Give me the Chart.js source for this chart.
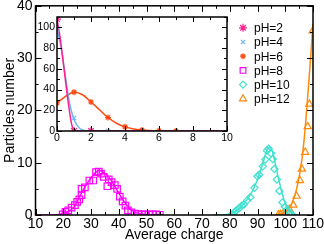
<!DOCTYPE html>
<html>
<head>
<meta charset="utf-8">
<script src="https://cdn.jsdelivr.net/npm/chart.js@4"></script>
<style>
  html, body { margin: 0; padding: 0; background: #fff; }
  #wrap { position: relative; width: 324px; height: 244px; }
  #wrap canvas { position: absolute; left: 0; top: 0; }
</style>
</head>
<body>
<div id="wrap">
  <canvas id="mainChart" width="324" height="244"></canvas>
  <canvas id="insetChart" width="324" height="244"></canvas>
</div>
<script>
// main panel: charge distributions for pH 8, 10, 12
const xTicks = [10, 20, 30, 40, 50, 60, 70, 80, 90, 100, 110];
const yTicks = [0, 10, 20, 30, 40];

const pH8X = [19.8, 20.8, 21.8, 23.0, 24.2, 25.0, 25.8, 26.6, 26.6, 27.8, 29.4, 30.8, 31.8, 32.8, 33.6, 34.6, 35.9, 36.4, 37.4, 38.6, 39.4, 40.4, 41.4, 42.4, 43.3, 44.5, 45.8, 47.0, 48.3, 49.6, 50.9, 52.2, 53.5, 54.8];
const pH8Y = [0.1, 0.6, 0.9, 1.4, 1.9, 2.5, 3.0, 3.8, 5.0, 5.3, 6.6, 6.6, 8.2, 8.3, 7.9, 7.3, 5.5, 6.8, 6.3, 5.7, 5.0, 3.5, 2.6, 1.8, 0.9, 0.5, 0.25, 0.15, 0.1, 0.1, 0.1, 0.1, 0.1, 0.05];
const pH8FitX = [10, 14, 18, 20, 22, 24, 26, 28, 30, 32, 33, 34, 36, 38, 40, 42, 44, 46, 48, 50, 52, 56];
const pH8FitY = [0, 0, 0.05, 0.3, 0.7, 1.6, 3.6, 5.5, 7.1, 8.3, 8.5, 8.3, 7.5, 6.0, 4.2, 2.5, 1.2, 0.5, 0.2, 0.05, 0, 0];

const pH10X = [80.7, 81.6, 82.4, 83.4, 84.3, 85.1, 86.3, 87.4, 88.9, 90.0, 90.6, 91.9, 92.8, 93.4, 94.0, 94.9, 95.5, 96.1, 97.0, 97.9, 99.0, 99.9, 100.6, 101.6, 102.4];
const pH10Y = [0.1, 0.5, 0.9, 1.3, 1.8, 2.0, 2.8, 3.4, 5.2, 7.4, 7.7, 9.3, 10.6, 12.3, 12.7, 11.8, 10.7, 8.8, 6.8, 4.6, 2.4, 1.6, 1.0, 0.4, 0.1];
const pH10FitX = [74, 78, 80, 82, 84, 86, 88, 90, 92, 93, 94, 95, 96, 97, 98, 99, 100, 101, 102, 103, 105];
const pH10FitY = [0, 0.05, 0.2, 0.7, 1.6, 2.8, 4.4, 6.8, 10.0, 11.8, 12.9, 12.6, 10.8, 8.4, 6.0, 3.9, 2.2, 1.1, 0.5, 0.2, 0];

const pH12X = [97.5, 98.3, 99.2, 100.0, 101.5, 102.9, 104.1, 105.3, 106.0, 107.2, 108.1, 108.7, 109.9];
const pH12Y = [0.05, 0.1, 0.2, 0.3, 1.1, 1.9, 3.6, 6.6, 8.8, 12.0, 16.9, 21.2, 35.2];
const pH12FitX = [96, 98, 100, 101, 102, 103, 104, 105, 106, 107, 108, 109, 110];
const pH12FitY = [0, 0.05, 0.4, 0.9, 1.8, 3.0, 4.8, 7.3, 10.6, 15.5, 22.0, 29.0, 36.5];

// inset: pH 2, 4, 6
const insetXTicks = [0, 2, 4, 6, 8, 10];
const insetYTicks = [0, 20, 40, 60, 80, 100];

const pH2X = [0, 1, 2];
const pH2Y = [108, 0, 0];
const pH2FitX = [0, 0.2, 0.4, 0.6, 0.8, 0.9, 1.0, 1.2, 10];
const pH2FitY = [108, 88, 62, 35, 12, 4, 0.5, 0, 0];

const pH4X = [0, 1, 2, 3];
const pH4Y = [98, 12.5, 0, 0];
const pH4FitX = [0, 0.25, 0.5, 0.75, 1.0, 1.25, 1.5, 2.0, 10];
const pH4FitY = [98, 80, 52, 26, 11, 4, 1, 0, 0];

const pH6X = [0, 1, 2, 3, 4, 5, 6, 7];
const pH6Y = [27, 37.5, 28, 13, 4, 1, 0.3, 0];
const pH6FitX = [0, 0.5, 1, 1.5, 2, 2.5, 3, 3.5, 4, 4.5, 5, 6, 7, 10];
const pH6FitY = [27, 33.5, 37.5, 35, 28, 20.5, 13, 7.5, 4, 2, 1, 0.2, 0, 0];

const legendLabels = ['pH=2', 'pH=4', 'pH=6', 'pH=8', 'pH=10', 'pH=12'];

const C2 = '#ff1f8f', C4 = '#6db6f2', C6 = '#ff4a12';
const C8 = '#ff00ff', C10 = '#3fe0d0', C12 = '#ff8a0a';

Chart.defaults.font.family = '"Liberation Sans", Arial, sans-serif';
Chart.defaults.color = '#000';

function pts(xs, ys) {
  return xs.map((x, i) => ({ x: x, y: ys[i] }));
}

function curve(xs, ys, color) {
  return {
    data: pts(xs, ys),
    showLine: true,
    borderColor: color,
    borderWidth: 1.5,
    pointRadius: 0,
    tension: 0.4,
    cubicInterpolationMode: 'monotone'
  };
}

function marks(xs, ys, color, style, r) {
  return {
    data: pts(xs, ys),
    showLine: false,
    borderColor: color,
    backgroundColor: 'rgba(0,0,0,0)',
    borderWidth: 1.2,
    pointStyle: style,
    pointRadius: r
  };
}

// 框线 + 向内的刻度
const frameTicks = {
  id: 'frameTicks',
  afterDraw(chart, args, o) {
    const { ctx, chartArea: a, scales: { x, y } } = chart;
    ctx.save();
    ctx.strokeStyle = '#000';
    ctx.lineWidth = 1;
    ctx.beginPath();
    for (let v = x.min; v <= x.max + 1e-6; v += o.xMinor) {
      const px = Math.round(x.getPixelForValue(v)) + 0.5;
      const big = Math.abs(v / o.xMajor - Math.round(v / o.xMajor)) < 1e-6;
      const len = big ? o.major : o.minor;
      ctx.moveTo(px, a.bottom); ctx.lineTo(px, a.bottom - len);
      ctx.moveTo(px, a.top); ctx.lineTo(px, a.top + len);
    }
    for (let v = y.min; v <= y.max + 1e-6; v += o.yMinor) {
      const py = Math.round(y.getPixelForValue(v)) + 0.5;
      const big = Math.abs(v / o.yMajor - Math.round(v / o.yMajor)) < 1e-6;
      const len = big ? o.major : o.minor;
      ctx.moveTo(a.left, py); ctx.lineTo(a.left + len, py);
      ctx.moveTo(a.right, py); ctx.lineTo(a.right - len, py);
    }
    ctx.stroke();
    ctx.lineWidth = 1.5;
    ctx.strokeRect(a.left, a.top, a.right - a.left, a.bottom - a.top);
    ctx.restore();
  }
};

const whiteArea = {
  id: 'whiteArea',
  beforeDraw(chart) {
    const { ctx, chartArea: a } = chart;
    ctx.save();
    ctx.fillStyle = '#fff';
    ctx.fillRect(a.left, a.top, a.right - a.left, a.bottom - a.top);
    ctx.restore();
  }
};

// 图例（画在主图内部右上角）
const legendStyles = [
  { color: C2, style: 'star', r: 4 },
  { color: C4, style: 'crossRot', r: 3 },
  { color: C6, style: 'star', r: 3 },
  { color: C8, style: 'rect', r: 4 },
  { color: C10, style: 'rectRot', r: 3.5 },
  { color: C12, style: 'triangle', r: 4 }
];
const innerLegend = {
  id: 'innerLegend',
  afterDraw(chart) {
    const { ctx, chartArea: a } = chart;
    ctx.save();
    ctx.font = '12px "Liberation Sans", Arial, sans-serif';
    ctx.fillStyle = '#000';
    ctx.textBaseline = 'middle';
    legendLabels.forEach((lab, i) => {
      const st = legendStyles[i];
      const yy = a.top + 22 + i * 14.2;
      const xx = a.right - 70;
      ctx.strokeStyle = st.color;
      ctx.fillStyle = 'rgba(0,0,0,0)';
      ctx.lineWidth = 1.2;
      Chart.helpers.drawPoint(ctx, { pointStyle: st.style, radius: st.r, borderWidth: 1.2 }, xx, yy);
      ctx.fillStyle = '#000';
      ctx.fillText(lab, xx + 11, yy + 1);
    });
    ctx.restore();
  }
};

function fixedTicks(list) {
  return function (scale) {
    scale.ticks = list.map(v => ({ value: v }));
  };
}

function fixSize(w, h) {
  return function (scale) {
    if (w !== null) scale.width = w;
    if (h !== null) scale.height = h;
    scale.paddingLeft = 0; scale.paddingRight = 0;
    scale.paddingTop = 0; scale.paddingBottom = 0;
  };
}

new Chart(document.getElementById('mainChart'), {
  type: 'scatter',
  data: {
    datasets: [
      marks(pH8X, pH8Y, C8, 'rect', 4.6),
      marks(pH10X, pH10Y, C10, 'rectRot', 3.6),
      marks(pH12X, pH12Y, C12, 'triangle', 4.2),
      curve(pH8FitX, pH8FitY, C8),
      curve(pH10FitX, pH10FitY, C10),
      curve(pH12FitX, pH12FitY, C12)
    ]
  },
  options: {
    responsive: false,
    animation: false,
    layout: { padding: { left: 0, right: 11, top: 4, bottom: 0 } },
    plugins: {
      legend: { display: false },
      tooltip: { enabled: false },
      frameTicks: { xMinor: 5, xMajor: 10, yMinor: 5, yMajor: 10, major: 6, minor: 3 }
    },
    scales: {
      x: {
        type: 'linear', min: 10, max: 110,
        grid: { display: false, drawTicks: false },
        border: { display: false },
        afterBuildTicks: fixedTicks(xTicks),
        afterFit: fixSize(null, 29),
        ticks: { padding: 1, font: { size: 14 }, maxRotation: 0 },
        title: { display: true, text: 'Average charge', font: { size: 14 }, padding: { top: -2, bottom: 0 } }
      },
      y: {
        type: 'linear', min: 0, max: 40,
        grid: { display: false, drawTicks: false },
        border: { display: false },
        afterBuildTicks: fixedTicks(yTicks),
        afterFit: fixSize(35.5, null),
        ticks: { padding: 3, font: { size: 14 } },
        title: { display: true, text: 'Particles number', font: { size: 14 }, padding: { top: 2, bottom: 0 } }
      }
    }
  },
  plugins: [frameTicks, innerLegend]
});

new Chart(document.getElementById('insetChart'), {
  type: 'scatter',
  data: {
    datasets: [
      marks(pH2X, pH2Y, C2, 'star', 4),
      marks(pH4X, pH4Y, C4, 'crossRot', 3),
      marks(pH6X, pH6Y, C6, 'star', 3),
      curve(pH2FitX, pH2FitY, C2),
      curve(pH4FitX, pH4FitY, C4),
      curve(pH6FitX, pH6FitY, C6)
    ]
  },
  options: {
    responsive: false,
    animation: false,
    layout: { padding: { left: 30, right: 97, top: 17, bottom: 100 } },
    plugins: {
      legend: { display: false },
      tooltip: { enabled: false },
      frameTicks: { xMinor: 1, xMajor: 2, yMinor: 10, yMajor: 20, major: 5, minor: 3 }
    },
    scales: {
      x: {
        type: 'linear', min: 0, max: 10,
        grid: { display: false, drawTicks: false },
        border: { display: false },
        afterBuildTicks: fixedTicks(insetXTicks),
        afterFit: fixSize(null, 13),
        ticks: { padding: 1, font: { size: 10.5 }, maxRotation: 0 }
      },
      y: {
        type: 'linear', min: 0, max: 110,
        grid: { display: false, drawTicks: false },
        border: { display: false },
        afterBuildTicks: fixedTicks(insetYTicks),
        afterFit: fixSize(27, null),
        ticks: { padding: 2, font: { size: 10.5 } }
      }
    }
  },
  plugins: [whiteArea, frameTicks]
});
</script>
</body>
</html>
